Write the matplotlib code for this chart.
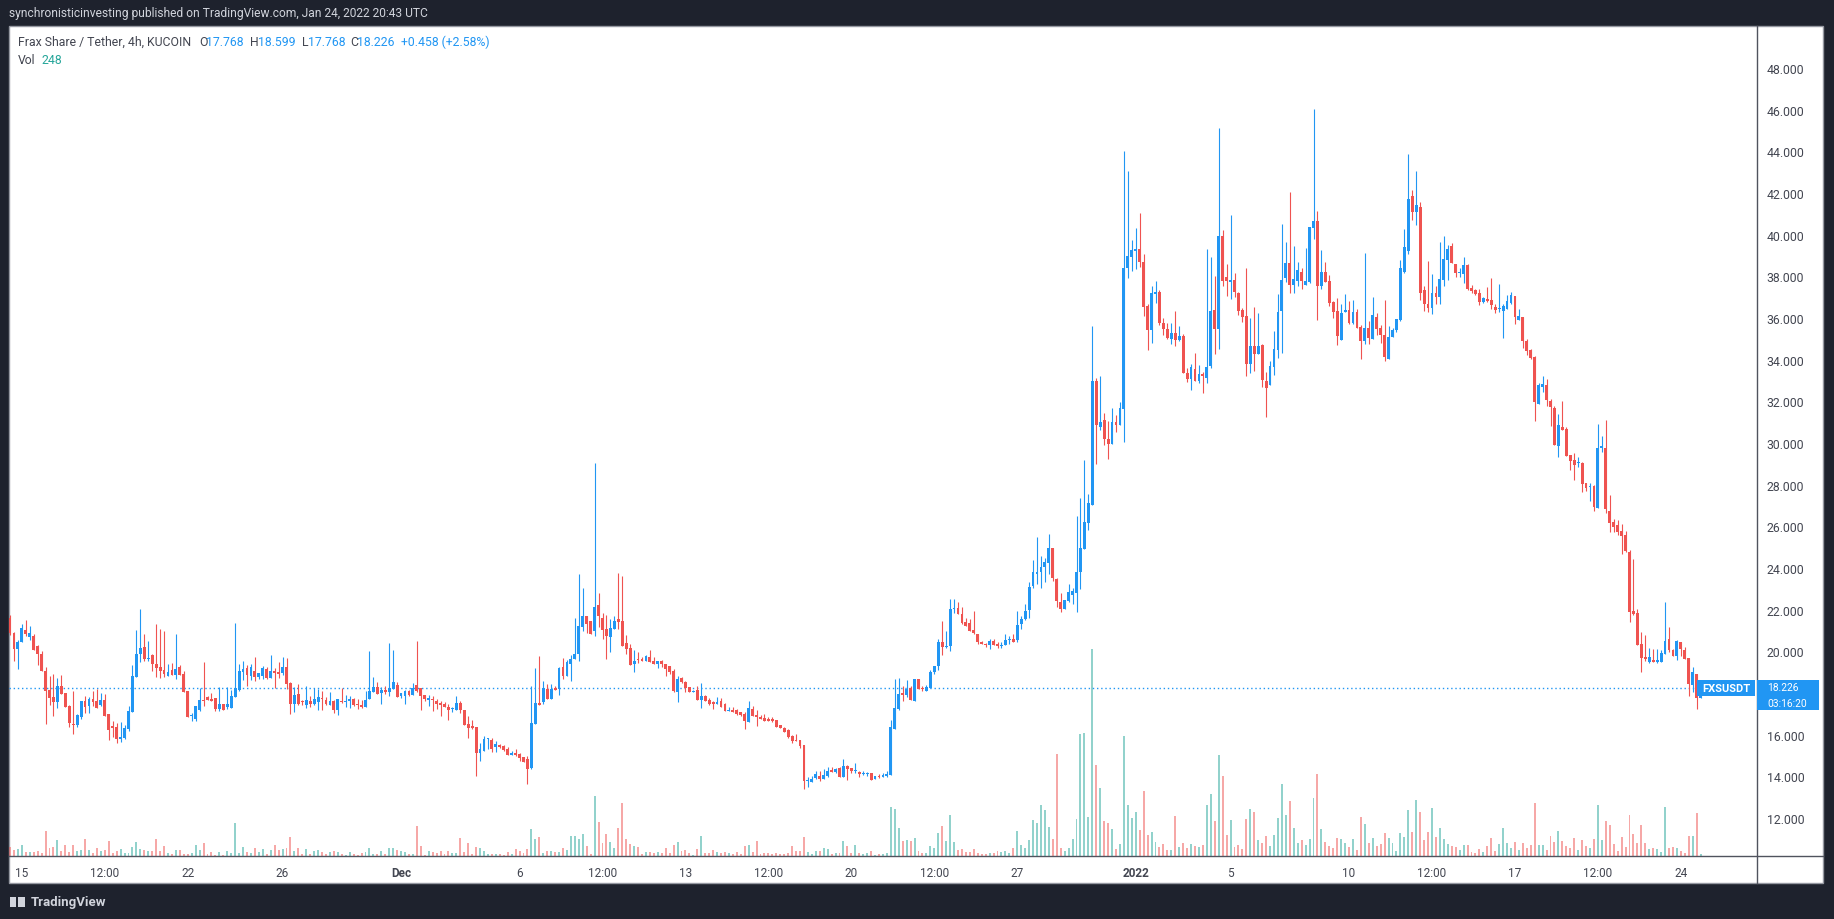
import matplotlib
matplotlib.use("Agg")
import matplotlib.pyplot as plt
import numpy as np
import pandas as pd
from matplotlib.patches import Rectangle
from matplotlib.lines import Line2D

# 4h candles FXS/USDT (KuCoin), Nov 14 2021 12:00 -> Jan 24 2022 20:00
opens = [
    21.60, 20.88, 20.11, 20.43, 21.02, 20.70, 20.75, 20.27, 19.87, 19.05,
    18.14, 17.81, 17.58, 18.33, 18.00, 17.39, 16.51, 16.46, 16.86, 17.61,
    17.39, 17.69, 17.61, 17.44, 17.66, 16.99, 16.41, 16.37, 15.81, 15.85,
    16.27, 17.10, 18.78, 19.85, 20.21, 19.63, 19.82, 19.39, 19.25, 19.10,
    18.83, 19.10, 18.86, 19.25, 18.91, 18.09, 16.91, 16.77, 17.18, 17.66,
    17.82, 17.71, 17.76, 17.25, 17.47, 17.33, 17.29, 17.82, 18.14, 19.02,
    19.20, 18.83, 19.04, 18.78, 18.83, 19.15, 18.72, 19.05, 19.01, 18.96,
    19.25, 18.48, 17.49, 17.95,
    17.56, 17.44, 17.63, 17.49, 17.55, 17.74, 17.66, 17.44, 17.63, 17.20,
    17.61, 17.58, 17.60, 17.71, 17.44, 17.42, 17.34, 17.71, 18.06, 18.29,
    18.01, 18.14, 18.06, 18.19, 18.38, 17.85, 17.87, 18.11, 17.92, 18.38,
    18.24, 17.90, 17.68, 17.68, 17.63, 17.52, 17.47, 17.34, 17.21, 17.18,
    17.52, 17.18, 16.51, 16.40, 16.38, 15.13, 15.23, 15.77, 15.74, 15.42,
    15.52, 15.45, 15.31, 15.04, 15.12, 15.05, 14.91, 14.83, 14.40, 16.51,
    17.52, 17.58, 18.19, 17.71, 18.24, 18.19, 19.23, 18.81, 19.39, 19.63,
    19.87, 21.17, 21.69, 21.45, 20.97, 22.22,
    21.60, 21.07, 20.70, 21.07, 21.55, 21.45, 20.40, 20.16, 19.41, 19.63,
    19.65, 19.55, 19.73, 19.53, 19.41, 19.53, 19.39, 19.29, 19.05, 18.06,
    18.72, 18.53, 18.29, 18.06, 18.14, 17.68, 17.85, 17.66, 17.52, 17.47,
    17.63, 17.47, 17.15, 17.20, 17.18, 17.09, 16.99, 16.62, 17.23, 16.96,
    16.86, 16.81, 16.77, 16.77, 16.70, 16.46, 16.32, 16.22, 15.93, 15.74,
    15.74, 15.50, 13.79, 13.74, 13.92, 14.01, 13.89, 14.01, 14.30, 14.21,
    14.40, 13.97, 14.49, 14.40, 14.25, 14.22, 14.11, 14.11, 14.16, 13.89,
    14.00, 13.98, 14.01, 14.08, 16.29, 17.23,
    18.00, 17.91, 18.22, 17.59, 18.65, 18.22, 18.07, 18.26, 18.99, 19.29,
    20.43, 20.22, 20.24, 22.01, 22.07, 21.77, 21.40, 21.36, 21.02, 20.85,
    20.46, 20.37, 20.28, 20.50, 20.33, 20.24, 20.28, 20.54, 20.61, 20.56,
    21.30, 21.55, 21.96, 23.13, 23.69, 23.82, 24.05, 24.25, 24.96, 23.47,
    22.35, 22.01, 22.42, 22.72, 22.82, 23.79, 24.93, 26.18, 27.00, 32.97,
    30.79, 31.11, 30.17, 29.95, 31.01, 30.84, 31.61, 38.39, 38.95, 39.21,
    39.32, 38.67, 36.58, 35.42, 37.15, 37.25, 35.74, 35.49, 34.97, 35.29,
    34.93, 35.14, 33.35,
    33.09, 33.55, 32.99, 33.31, 33.13, 33.71, 36.38, 35.49, 39.93, 37.95,
    37.74, 37.82, 37.20, 36.40, 36.08, 33.79, 34.65, 34.29, 34.70, 32.97,
    32.78, 33.65, 34.48, 36.35, 37.93, 38.64, 37.60, 37.79, 38.21, 37.60,
    37.74, 40.33, 40.65, 37.55, 38.21, 37.77, 36.78, 36.33, 34.96, 36.30,
    36.38, 35.77, 36.30, 35.58, 34.91, 35.53, 35.01, 36.06, 35.53, 35.20,
    34.05, 35.10, 35.42, 35.92, 38.21, 39.23, 41.85, 41.10, 41.33, 37.34,
    36.67, 36.49, 37.20, 37.02, 37.84, 38.80, 39.45, 38.59, 38.14, 38.13,
    38.54, 37.44, 37.34, 37.20, 36.77,
    36.91, 36.86, 36.53, 36.43, 36.35, 36.45, 36.72, 37.05, 35.92, 36.05,
    34.89, 34.46, 34.13, 31.89, 32.70, 32.78, 32.00, 31.66, 29.87, 30.77,
    30.67, 29.42, 29.20, 29.04, 29.04, 28.08, 27.88, 27.93, 26.89, 29.76,
    29.76, 26.73, 26.21, 26.08, 25.77, 25.60, 24.78, 21.92, 21.85, 20.33,
    19.74, 19.50, 19.60, 19.50, 19.50, 19.89, 20.59, 20.08, 19.79, 20.45,
    20.08, 19.69, 18.40, 18.93, 17.768,
]

highs = [
    21.75, 20.94, 20.54, 21.31, 21.50, 21.21, 20.83, 20.32, 20.03, 19.26,
    18.81, 18.91, 18.72, 18.86, 18.00, 17.42, 18.09, 16.99, 17.61, 17.85,
    17.79, 18.09, 18.19, 18.00, 17.95, 16.99, 16.65, 16.54, 16.61, 16.46,
    17.37, 19.34, 21.02, 22.03, 20.83, 20.49, 19.87, 21.31, 21.07, 20.97,
    19.39, 19.44, 20.83, 19.34, 19.05, 18.09, 17.04, 17.37, 18.24, 19.49,
    17.87, 17.99, 17.76, 18.29, 17.47, 18.29, 18.14, 21.36, 19.39, 19.53,
    19.34, 19.39, 19.73, 18.96, 19.29, 19.25, 19.82, 19.20, 19.49, 19.73,
    19.68, 18.53, 18.29, 18.43,
    17.68, 18.33, 17.87, 18.24, 18.19, 18.11, 17.81, 18.05, 17.68, 17.73,
    18.24, 17.90, 17.87, 17.74, 17.71, 17.68, 18.09, 20.03, 18.77, 18.53,
    18.29, 18.33, 20.40, 20.06, 18.53, 18.01, 18.14, 18.16, 18.48, 20.49,
    18.24, 17.90, 17.90, 17.87, 17.71, 17.63, 17.55, 17.47, 17.31, 17.85,
    17.61, 17.18, 16.91, 16.72, 16.38, 15.60, 15.95, 15.85, 15.85, 15.71,
    15.55, 15.50, 15.39, 15.21, 15.31, 15.12, 14.93, 14.99, 18.33, 19.20,
    19.77, 18.57, 18.43, 18.43, 18.33, 19.23, 19.68, 19.58, 19.82, 21.60,
    23.71, 23.04, 21.69, 21.45, 29.04, 22.80,
    21.84, 21.74, 21.55, 21.69, 23.76, 23.61, 20.78, 20.35, 20.06, 19.97,
    19.73, 19.82, 20.06, 19.73, 19.53, 19.58, 19.39, 19.29, 19.15, 18.81,
    18.77, 18.57, 18.29, 18.16, 18.33, 18.48, 17.90, 17.76, 17.63, 17.81,
    17.76, 17.52, 17.34, 17.34, 17.25, 17.09, 17.09, 17.63, 17.37, 17.18,
    16.96, 16.99, 16.86, 16.86, 16.70, 16.46, 16.35, 16.27, 15.98, 16.03,
    15.74, 15.50, 13.98, 14.01, 14.25, 14.25, 14.35, 14.45, 14.45, 14.40,
    14.45, 14.83, 14.54, 14.40, 14.64, 14.25, 14.25, 14.21, 14.16, 14.01,
    14.11, 14.16, 14.25, 16.70, 18.67, 18.72,
    18.32, 18.60, 18.32, 18.69, 18.65, 18.32, 18.37, 19.08, 19.29, 20.61,
    21.45, 20.99, 22.52, 22.52, 22.37, 22.12, 21.60, 21.55, 21.94, 20.85,
    20.50, 20.41, 20.59, 20.59, 20.46, 20.43, 20.84, 20.71, 20.84, 21.94,
    21.71, 22.29, 23.34, 24.37, 25.49, 24.57, 24.48, 25.64, 24.96, 23.51,
    22.80, 22.46, 23.23, 23.04, 26.49, 27.35, 29.18, 27.56, 35.62, 33.12,
    33.22, 31.44, 31.07, 31.70, 31.35, 31.96, 44.01, 43.05, 39.75, 40.33,
    41.04, 39.08, 36.67, 37.53, 37.77, 37.34, 35.98, 35.74, 35.75, 36.35,
    35.62, 35.23, 33.61,
    33.77, 34.32, 33.74, 33.41, 39.31, 38.93, 38.01, 45.12, 40.22, 38.59,
    40.94, 38.16, 37.25, 36.49, 38.40, 36.00, 36.53, 36.24, 34.75, 33.39,
    33.95, 35.37, 37.15, 40.51, 39.65, 42.05, 39.45, 38.69, 38.40, 39.36,
    40.37, 46.03, 41.13, 39.26, 38.69, 38.06, 36.83, 36.96, 36.67, 37.15,
    36.83, 36.88, 36.43, 35.66, 39.12, 35.85, 37.01, 36.24, 35.68, 36.88,
    35.61, 35.52, 35.97, 38.78, 40.27, 43.87, 42.14, 43.05, 41.57, 37.55,
    38.73, 38.11, 37.53, 39.65, 39.93, 39.50, 39.60, 38.61, 38.40, 38.93,
    38.59, 37.58, 37.39, 37.39, 37.02,
    37.47, 37.92, 36.65, 37.63, 36.65, 37.10, 37.26, 37.05, 36.43, 36.05,
    34.99, 34.51, 34.17, 32.88, 33.21, 33.07, 32.11, 31.79, 31.39, 32.01,
    30.77, 29.42, 29.52, 29.33, 29.09, 28.08, 28.08, 28.00, 30.91, 30.33,
    31.10, 27.50, 26.35, 26.30, 26.11, 25.77, 24.88, 24.43, 22.03, 20.91,
    20.78, 20.17, 20.11, 20.11, 20.06, 22.38, 21.18, 20.11, 20.54, 20.45,
    20.22, 19.69, 19.25, 18.93, 18.599,
]

lows = [
    20.80, 19.55, 19.15, 20.43, 20.75, 20.56, 20.08, 19.34, 19.07, 16.51,
    17.42, 16.89, 17.29, 17.97, 17.34, 16.38, 16.03, 16.38, 16.77, 17.04,
    17.04, 17.39, 17.29, 17.39, 16.91, 15.74, 15.90, 15.60, 15.66, 15.79,
    16.17, 17.10, 18.78, 19.50, 19.55, 19.55, 19.05, 18.78, 18.72, 18.78,
    18.83, 18.86, 18.67, 18.86, 18.06, 16.86, 16.67, 16.67, 17.13, 17.39,
    17.68, 17.61, 17.15, 17.15, 17.20, 17.25, 17.29, 17.82, 18.09, 18.62,
    18.33, 18.62, 18.57, 18.67, 18.67, 18.67, 18.72, 18.22, 18.72, 18.86,
    18.19, 16.99, 17.10, 17.42,
    17.42, 17.29, 17.34, 17.44, 17.18, 17.20, 17.42, 17.42, 17.05, 16.96,
    17.53, 17.34, 17.29, 17.39, 17.25, 17.26, 17.34, 17.71, 18.06, 17.97,
    17.47, 17.95, 17.87, 18.19, 17.82, 17.77, 17.47, 17.87, 17.92, 18.06,
    17.20, 17.63, 17.39, 17.15, 17.23, 16.91, 17.31, 16.72, 17.10, 17.18,
    17.05, 16.48, 15.85, 16.27, 14.03, 14.75, 15.23, 15.31, 15.18, 15.18,
    15.37, 15.23, 15.04, 15.04, 14.99, 14.73, 14.69, 13.61, 14.35, 16.51,
    17.42, 17.47, 17.71, 17.71, 18.16, 17.90, 18.67, 18.81, 18.57, 19.63,
    19.53, 20.97, 20.88, 20.83, 20.73, 21.17,
    20.59, 19.63, 19.98, 21.07, 21.07, 20.27, 19.89, 19.36, 19.01, 19.45,
    19.53, 19.53, 19.50, 19.41, 19.20, 19.25, 18.81, 18.91, 18.05, 17.57,
    18.49, 18.06, 18.06, 18.03, 17.68, 17.28, 17.63, 17.42, 17.23, 17.47,
    17.34, 17.15, 17.15, 17.07, 16.96, 16.91, 16.27, 16.62, 16.91, 16.43,
    16.75, 16.67, 16.67, 16.62, 16.37, 16.32, 16.13, 15.84, 15.60, 15.69,
    15.36, 13.39, 13.49, 13.74, 13.87, 13.77, 13.89, 13.97, 14.21, 14.16,
    13.97, 13.97, 13.82, 14.16, 14.16, 13.97, 14.06, 14.01, 13.82, 13.87,
    13.90, 13.97, 13.97, 14.08, 16.29, 17.20,
    17.63, 17.81, 17.66, 17.59, 18.19, 18.07, 18.07, 18.26, 18.89, 19.12,
    19.83, 20.18, 20.00, 21.86, 21.77, 21.32, 21.23, 20.95, 20.84, 20.37,
    20.33, 20.22, 20.13, 20.28, 20.18, 20.18, 20.28, 20.37, 20.46, 20.43,
    21.08, 21.51, 21.60, 23.04, 23.23, 23.04, 23.32, 23.73, 23.38, 22.11,
    21.90, 22.01, 22.37, 22.25, 21.90, 22.97, 24.93, 25.80, 27.00, 29.01,
    30.60, 29.89, 29.24, 29.95, 30.51, 30.84, 30.06, 37.94, 38.26, 38.35,
    38.44, 36.11, 34.48, 34.82, 36.74, 35.66, 35.19, 34.99, 34.76, 34.67,
    34.90, 33.38, 32.93,
    32.56, 32.99, 32.86, 32.41, 32.89, 33.58, 34.29, 34.53, 37.55, 37.07,
    36.93, 37.02, 36.16, 35.79, 33.23, 33.37, 33.47, 34.29, 32.70, 31.26,
    32.78, 33.28, 34.09, 34.33, 37.74, 37.21, 37.21, 37.55, 37.41, 37.60,
    37.69, 39.79, 35.92, 37.41, 37.74, 36.59, 36.01, 34.72, 34.96, 36.27,
    35.73, 35.73, 35.53, 34.05, 34.75, 34.77, 35.01, 35.20, 34.80, 33.95,
    34.05, 35.10, 35.34, 35.87, 38.16, 39.09, 40.70, 40.46, 36.88, 36.35,
    36.30, 36.21, 36.69, 36.69, 37.55, 37.84, 38.65, 37.98, 37.98, 37.69,
    37.36, 37.18, 37.12, 36.64, 36.73,
    36.75, 36.43, 36.25, 36.30, 35.05, 36.45, 36.67, 35.73, 35.92, 34.57,
    34.24, 34.03, 31.05, 31.89, 32.46, 31.79, 30.83, 29.92, 29.34, 30.64,
    29.39, 28.72, 28.24, 28.85, 27.66, 27.71, 27.23, 26.75, 26.89, 29.58,
    26.65, 25.74, 25.71, 25.60, 24.69, 24.78, 21.39, 21.74, 20.32, 18.99,
    19.53, 19.42, 19.47, 19.42, 19.50, 19.89, 19.95, 19.79, 19.60, 19.79,
    19.63, 17.87, 18.06, 17.23, 17.768,
]

closes = [
    20.88, 20.11, 20.43, 21.10, 20.83, 20.88, 20.08, 19.89, 19.07, 18.11,
    17.77, 17.58, 18.33, 17.97, 17.34, 16.56, 16.48, 16.94, 17.61, 17.34,
    17.69, 17.57, 17.29, 17.66, 16.91, 16.24, 16.33, 15.79, 15.89, 16.32,
    17.13, 18.81, 19.87, 20.16, 19.63, 19.66, 19.41, 19.21, 19.05, 18.91,
    19.01, 18.86, 19.15, 18.86, 18.06, 16.86, 16.94, 17.37, 17.66, 17.61,
    17.68, 17.61, 17.25, 17.47, 17.20, 17.47, 17.85, 18.24, 19.05, 19.15,
    18.86, 19.25, 18.78, 18.96, 19.20, 18.72, 19.04, 18.97, 18.91, 19.25,
    18.43, 17.49, 17.90, 17.49,
    17.55, 17.68, 17.49, 17.71, 17.82, 17.69, 17.47, 17.60, 17.20, 17.71,
    17.58, 17.61, 17.71, 17.42, 17.41, 17.33, 17.68, 18.09, 18.29, 17.97,
    18.14, 18.06, 18.24, 18.53, 17.82, 18.01, 18.09, 17.92, 18.24, 18.11,
    17.87, 17.71, 17.77, 17.65, 17.47, 17.42, 17.34, 17.18, 17.25, 17.52,
    17.18, 16.48, 16.30, 16.33, 15.13, 15.31, 15.79, 15.81, 15.33, 15.55,
    15.42, 15.26, 15.04, 15.13, 15.04, 14.88, 14.69, 14.37, 16.56, 17.52,
    17.42, 18.22, 17.71, 18.19, 18.16, 19.20, 18.81, 19.49, 19.63, 19.87,
    21.21, 21.69, 21.33, 20.83, 22.13, 21.69,
    21.04, 20.75, 21.12, 21.45, 21.42, 20.27, 20.13, 19.36, 19.53, 19.57,
    19.55, 19.77, 19.50, 19.41, 19.53, 19.41, 19.17, 19.01, 18.09, 18.67,
    18.53, 18.24, 18.06, 18.11, 17.68, 17.85, 17.63, 17.47, 17.49, 17.57,
    17.34, 17.15, 17.18, 17.10, 16.99, 16.96, 16.67, 17.28, 16.91, 16.86,
    16.77, 16.67, 16.67, 16.67, 16.37, 16.32, 16.13, 15.89, 15.69, 15.69,
    15.45, 13.77, 13.82, 13.87, 14.11, 13.87, 14.06, 14.25, 14.21, 14.35,
    13.97, 14.49, 14.35, 14.25, 14.26, 14.13, 14.12, 14.12, 13.84, 14.01,
    13.97, 14.06, 14.11, 16.37, 17.28, 17.95,
    17.89, 18.19, 17.66, 18.65, 18.19, 18.17, 18.30, 18.99, 19.29, 20.43,
    20.20, 20.26, 22.03, 22.05, 21.77, 21.36, 21.23, 20.95, 20.87, 20.46,
    20.33, 20.28, 20.50, 20.28, 20.24, 20.31, 20.54, 20.61, 20.46, 21.27,
    21.55, 21.92, 23.10, 23.82, 23.82, 24.05, 24.29, 24.96, 23.54, 22.39,
    22.01, 22.46, 22.85, 22.89, 23.81, 24.96, 26.21, 27.11, 32.97, 30.84,
    31.01, 30.17, 29.95, 31.01, 30.84, 31.70, 38.42, 38.98, 39.26, 39.32,
    38.67, 36.54, 35.42, 37.19, 37.25, 35.74, 35.49, 35.04, 35.29, 34.93,
    35.14, 33.38, 33.08,
    33.63, 32.99, 33.29, 33.23, 33.63, 36.33, 35.49, 39.93, 37.79, 37.76,
    37.82, 37.26, 36.35, 36.06, 33.79, 34.65, 34.29, 34.65, 33.04, 32.65,
    33.69, 34.51, 36.30, 37.82, 38.64, 37.60, 37.87, 38.30, 37.79, 37.77,
    40.37, 40.65, 37.55, 38.21, 37.74, 36.73, 36.30, 35.15, 36.24, 36.38,
    35.77, 36.30, 35.53, 34.91, 35.53, 35.05, 36.14, 35.49, 35.20, 34.14,
    35.10, 35.42, 35.97, 38.40, 39.42, 41.73, 41.10, 41.42, 37.21, 36.67,
    36.49, 37.20, 37.01, 37.87, 38.83, 39.31, 38.65, 38.17, 38.17, 38.54,
    37.41, 37.31, 37.17, 36.78, 36.94,
    36.83, 36.64, 36.40, 36.46, 36.59, 36.81, 37.10, 36.06, 36.08, 34.91,
    34.43, 34.08, 31.97, 32.80, 32.83, 32.08, 31.74, 29.92, 30.86, 30.64,
    29.39, 29.15, 28.96, 29.09, 28.05, 27.85, 27.93, 26.94, 29.76, 29.85,
    26.85, 26.17, 25.98, 25.74, 25.55, 24.83, 21.90, 21.81, 20.32, 19.69,
    19.65, 19.71, 19.50, 19.60, 19.92, 20.49, 20.08, 19.79, 20.49, 20.13,
    19.65, 18.45, 19.01, 17.77, 18.226,
]

# volume (relative units)
volumes = [
    9, 6, 7, 11, 4, 4, 4, 5, 3, 25,
    8, 9, 16, 5, 11, 4, 11, 5, 6, 17,
    6, 3, 8, 5, 6, 15, 3, 5, 7, 3,
    3, 9, 14, 7, 6, 5, 5, 17, 5, 10,
    3, 2, 6, 6, 2, 2, 3, 11, 6, 13,
    2, 4, 1, 4, 1, 5, 3, 33, 3, 9,
    4, 3, 8, 4, 7, 2, 6, 11, 6, 7,
    8, 19, 5, 8,
    2, 7, 2, 5, 6, 4, 2, 4, 5, 4,
    2, 1, 4, 2, 1, 3, 4, 8, 2, 2,
    5, 2, 8, 8, 6, 5, 4, 2, 2, 30,
    10, 1, 5, 4, 3, 5, 2, 5, 3, 3,
    18, 4, 13, 2, 9, 8, 5, 2, 2, 2,
    2, 1, 4, 2, 7, 5, 3, 7, 27, 17,
    19, 3, 5, 5, 4, 4, 8, 6, 20, 20,
    17, 22, 10, 2, 60, 34,
    13, 22, 14, 8, 28, 53, 17, 12, 10, 9,
    2, 4, 4, 3, 4, 3, 8, 3, 11, 14,
    5, 6, 3, 1, 7, 20, 3, 3, 6, 4,
    3, 4, 3, 2, 4, 2, 10, 11, 4, 15,
    2, 3, 3, 2, 3, 2, 2, 3, 10, 5,
    5, 19, 4, 2, 5, 5, 8, 7, 2, 3,
    3, 15, 10, 3, 11, 3, 2, 3, 5, 1,
    2, 2, 3, 49, 47, 28,
    15, 16, 15, 18, 5, 3, 3, 10, 8, 23,
    30, 15, 41, 14, 6, 7, 4, 4, 7, 3,
    2, 2, 3, 3, 5, 4, 5, 3, 8, 25,
    11, 8, 16, 36, 33, 51, 46, 29, 17, 102,
    8, 5, 8, 17, 37, 122, 123, 39, 207, 91,
    68, 35, 33, 27, 7, 12, 120, 51, 38, 44,
    26, 65, 21, 24, 14, 9, 12, 6, 6, 40,
    9, 13, 8,
    12, 10, 9, 11, 51, 62, 35, 101, 80, 21,
    36, 9, 11, 7, 37, 47, 44, 16, 13, 20,
    10, 21, 38, 72, 41, 55, 28, 13, 16, 11,
    17, 58, 82, 27, 14, 10, 8, 18, 17, 13,
    9, 17, 6, 39, 32, 13, 18, 10, 12, 23,
    18, 13, 5, 23, 19, 46, 24, 56, 44, 16,
    24, 48, 19, 28, 17, 12, 10, 9, 6, 11,
    11, 4, 3, 7, 4,
    10, 18, 5, 12, 28, 13, 8, 14, 6, 13,
    8, 11, 53, 11, 11, 6, 20, 14, 25, 15,
    10, 8, 18, 6, 16, 10, 8, 17, 51, 16,
    35, 31, 12, 5, 19, 9, 41, 22, 13, 31,
    13, 7, 8, 7, 4, 49, 8, 9, 8, 5,
    3, 20, 20, 43, 2,
]

tick_dates = ["2021-11-15 00:00", "2021-11-18 12:00", "2021-11-22 00:00", "2021-11-26 00:00",
              "2021-12-01 00:00", "2021-12-06 00:00", "2021-12-09 12:00", "2021-12-13 00:00",
              "2021-12-16 12:00", "2021-12-20 00:00", "2021-12-23 12:00", "2021-12-27 00:00",
              "2022-01-01 00:00", "2022-01-05 00:00", "2022-01-10 00:00", "2022-01-13 12:00",
              "2022-01-17 00:00", "2022-01-20 12:00", "2022-01-24 00:00"]
tick_labels = ["15", "12:00", "22", "26", "Dec", "6", "12:00", "13", "12:00", "20",
               "12:00", "27", "2022", "5", "10", "12:00", "17", "12:00", "24"]
# 18.000 sits under the last-price label, so it is not shown
price_ticks = [12, 14, 16, 20, 22, 24, 26, 28, 30, 32, 34, 36, 38, 40, 42, 44, 46, 48]

last_price = 18.226
last_open, last_high, last_low = 17.768, 18.599, 17.768
change, change_pct = 0.458, 2.58
last_vol = 248

UP = "#2196f3"
DOWN = "#ef5350"
VOL_UP = "#26a69a"
BG = "#1e222d"
TXT = "#434651"

plt.rcParams["font.family"] = ["Roboto", "DejaVu Sans"]

W, H = 1834, 920
fig = plt.figure(figsize=(W / 100, H / 100), dpi=100, facecolor=BG)
renderer = fig.canvas.get_renderer()

def fx(x):
    return x / W

def fy(y):
    return 1 - y / H

# white chart panel
fig.patches.append(Rectangle((fx(9), fy(884)), fx(1823) - fx(9), fy(27) - fy(884),
                             transform=fig.transFigure, facecolor="white",
                             edgecolor="#9598a1", linewidth=1, zorder=-10))

o = np.array(opens)
h = np.array(highs)
l = np.array(lows)
c = np.array(closes)
v = np.array(volumes)
n = len(c)
xs = np.arange(n)
up = c >= o
times = pd.date_range("2021-11-14 12:00", periods=n, freq="4h")

rect = [fx(9), fy(857), fx(1757) - fx(9), fy(27) - fy(857)]
xlim = (-1 / 3.95, (1757 - 10) / 3.95)

# volume pane (behind candles)
axv = fig.add_axes(rect, zorder=1)
axv.set_xlim(*xlim)
axv.set_ylim(0, v.max() * 830 / 207)
axv.bar(xs, v, width=0.5, color=np.where(up, VOL_UP, DOWN), alpha=0.5, linewidth=0)
axv.axis("off")

ax = fig.add_axes(rect, zorder=2)
ax.patch.set_alpha(0)
ax.set_xlim(*xlim)
ax.set_ylim(10.17, 50.02)
cols = np.where(up, UP, DOWN)
ax.vlines(xs, l, h, colors=cols, linewidth=0.8, zorder=3)
body = np.maximum(np.abs(c - o), 0.05)
ax.bar(xs, body, bottom=np.minimum(o, c), width=0.72, color=cols, linewidth=0, zorder=4)

ax.axhline(last_price, xmin=0, xmax=(1697 - 9) / (1757 - 9), color=UP,
           linestyle=(0, (1, 2)), linewidth=1, zorder=2)

pos = times.get_indexer(pd.to_datetime(tick_dates))
ax.set_xticks(pos)
ax.set_xticklabels(tick_labels)
for t, lab in zip(ax.get_xticklabels(), tick_labels):
    if lab in ("Dec", "2022"):
        t.set_fontweight("bold")
ax.tick_params(axis="x", length=0, pad=7, labelsize=8.5, labelcolor=TXT)
ax.yaxis.tick_right()
ax.set_yticks(price_ticks)
ax.set_yticklabels([f"{p:.3f}" for p in price_ticks])
ax.tick_params(axis="y", length=0, pad=7, labelsize=8.8, labelcolor=TXT)
for s in ["top", "left", "right", "bottom"]:
    ax.spines[s].set_visible(False)

# axis separators
fig.add_artist(Line2D([fx(9), fx(1823)], [fy(857), fy(857)], color="#50535e", linewidth=1, zorder=3))
fig.add_artist(Line2D([fx(1757), fx(1757)], [fy(27), fy(884)], color="#50535e", linewidth=1, zorder=3))

def fit_text(x, y, s, width, **kw):
    t = fig.text(fx(x), fy(y), s, fontsize=10, va="center", **kw)
    w = t.get_window_extent(renderer).width
    t.set_fontsize(10 * width / w)
    return t

fit_text(9, 14, "synchronisticinvesting published on TradingView.com, Jan 24, 2022 20:43 UTC",
         419, color="#d1d4dc")

title = fit_text(18, 42, "Frax Share / Tether, 4h, KUCOIN", 173, color=TXT)
fs = title.get_fontsize()
legend_parts = [(199, "O", TXT), (206, f"{last_open:.3f}", UP),
                (250, "H", TXT), (258, f"{last_high:.3f}", UP),
                (302, "L", TXT), (308, f"{last_low:.3f}", UP),
                (350, "C", TXT), (357, f"{last_price:.3f}", UP),
                (401, f"+{change:.3f} (+{change_pct:.2f}%)", UP)]
for x, s, col in legend_parts:
    fig.text(fx(x), fy(42), s, fontsize=fs, color=col, va="center")
fig.text(fx(18), fy(60), "Vol", fontsize=fs, color=TXT, va="center")
fig.text(fx(42), fy(60), str(last_vol), fontsize=fs, color=VOL_UP, va="center")

# last price labels
fig.patches.append(Rectangle((fx(1697), fy(697)), fx(1755) - fx(1697), fy(681) - fy(697),
                             transform=fig.transFigure, facecolor=UP, edgecolor="none", zorder=5))
fig.text(fx(1726), fy(689), "FXSUSDT", fontsize=8, color="white", fontweight="bold",
         ha="center", va="center", zorder=6)
fig.patches.append(Rectangle((fx(1757), fy(711)), fx(1819) - fx(1757), fy(681) - fy(711),
                             transform=fig.transFigure, facecolor=UP, edgecolor="none", zorder=5))
fig.text(fx(1767), fy(688), f"{last_price:.3f}", fontsize=7.4, color="white", va="center", zorder=6)
fig.text(fx(1767), fy(704), "03:16:20", fontsize=7.4, color="white", va="center", zorder=6)

# TradingView footer
fig.patches.append(Rectangle((fx(10), fy(908)), fx(16) - fx(10), fy(898) - fy(908),
                             transform=fig.transFigure, facecolor="#d1d4dc", zorder=1))
fig.patches.append(Rectangle((fx(18), fy(908)), fx(25) - fx(18), fy(898) - fy(908),
                             transform=fig.transFigure, facecolor="#d1d4dc", zorder=1))
fig.text(fx(31), fy(903), "TradingView", fontsize=9.5, color="#d1d4dc", va="center",
         fontweight="bold")

plt.savefig("out.png", dpi=100, facecolor=BG)
